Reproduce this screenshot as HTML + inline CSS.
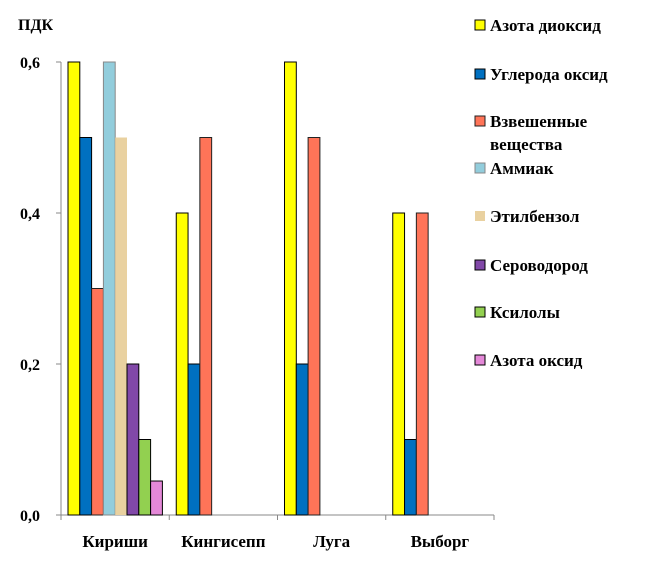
<!DOCTYPE html>
<html><head><meta charset="utf-8"><style>
body{margin:0;background:#fff;}
svg text{font-family:"Liberation Serif",serif;font-weight:bold;fill:#000;}
</style></head><body>
<svg width="665" height="560" id="c"></svg>
<script>
const categories=["Кириши","Кингисепп","Луга","Выборг"];
const seriesNames=["Азота диоксид","Углерода оксид","Взвешенные вещества","Аммиак","Этилбензол","Сероводород","Ксилолы","Азота оксид"];
const s0=[0.6,0.4,0.6,0.4];
const s1=[0.5,0.2,0.2,0.1];
const s2=[0.3,0.5,0.5,0.4];
const s3=[0.6,0,0,0];
const s4=[0.5,0,0,0];
const s5=[0.2,0,0,0];
const s6=[0.1,0,0,0];
const s7=[0.045,0,0,0];
const yTicks=[0,0.2,0.4,0.6];
const yTickLabels=["0,0","0,2","0,4","0,6"];
const series=[s0,s1,s2,s3,s4,s5,s6,s7];
const fills=["#ffff00","#0070c0","#ff7458","#92cddc","#e9d1a0","#8148a8","#92d050","#e488d8"];
const strokes=["#000","#000","#222","#888","none","#000","#000","#000"];
const NS="http://www.w3.org/2000/svg";
const svg=document.getElementById('c');
const X0=61,X1=494,Y0=515,Y1=62,catW=(X1-X0)/categories.length,barW=11.8,off=7;
const y=v=>Y0-(v/0.6)*(Y0-Y1);
function mk(t,a){const e=document.createElementNS(NS,t);for(const k in a)e.setAttribute(k,a[k]);svg.appendChild(e);return e;}
let ax=mk('line',{x1:X0,y1:Y1,x2:X0,y2:Y0,stroke:'#888'});


let bx=mk('line',{x1:X0,y1:Y0,x2:X1,y2:Y0,stroke:'#888'});


yTicks.forEach((v,i)=>{
 const tk=mk('line',{x1:X0-5,y1:y(v),x2:X0,y2:y(v),stroke:'#888'});
 
 
 const t=mk('text',{x:20,y:y(v)+6,'font-size':16});
 t.textContent=yTickLabels[i];
 
 
});
const tt=mk('text',{x:18,y:30,'font-size':16});tt.textContent="ПДК";


for(let c=0;c<=categories.length;c++){
 const tk=mk('line',{x1:X0+c*catW,y1:Y0,x2:X0+c*catW,y2:Y0+5,stroke:'#888'});
 
 
}
categories.forEach((n,c)=>{
 const t=mk('text',{x:X0+c*catW+catW/2,y:547,'font-size':17,'text-anchor':'middle'});
 t.textContent=n;
 
 
 series.forEach((s,i)=>{
  const v=s[c];if(!v)return;
  const r=mk('rect',{x:X0+c*catW+off+i*barW,y:y(v),width:barW,height:Y0-y(v),fill:fills[i],stroke:strokes[i],'stroke-width':1});
  
  
 });
});
const ly=[25,74,121,168,216,265,312,360];
seriesNames.forEach((n,i)=>{
 const r=mk('rect',{x:475,y:ly[i]-5,width:10,height:10,fill:fills[i],stroke:strokes[i]==='none'?'none':strokes[i]});
 
 
 const t=mk('text',{x:490,y:ly[i]+6,'font-size':17});
 
 
 if(i===2){
  t.textContent="Взвешенные";
  const t2=mk('text',{x:490,y:ly[i]+29,'font-size':17});
  t2.textContent="вещества";
  
  
 } else t.textContent=n;
});
</script>
</body></html>
